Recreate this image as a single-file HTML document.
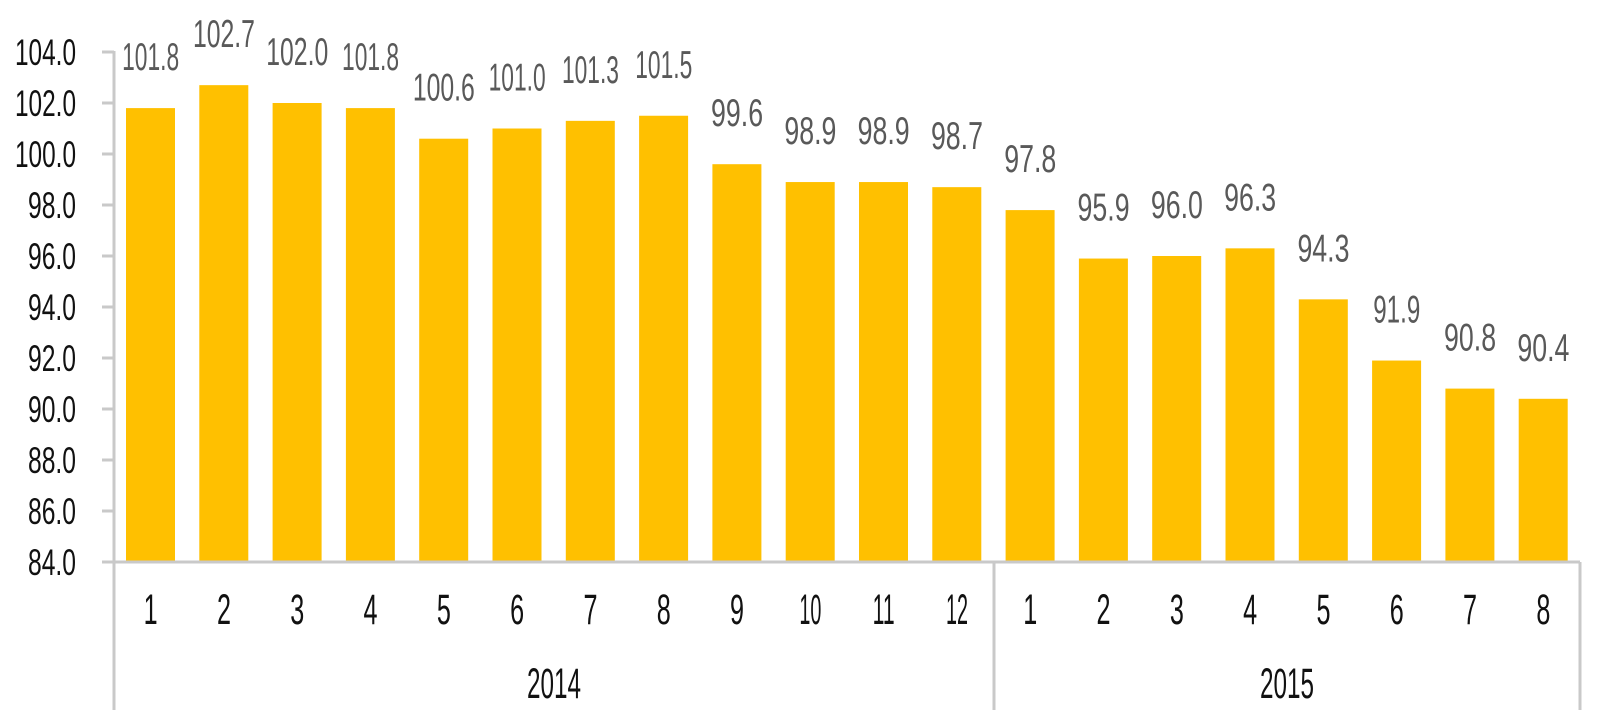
<!DOCTYPE html>
<html><head><meta charset="utf-8"><style>
html,body{margin:0;padding:0;background:#fff;}
svg{display:block;}
text{font-family:"Liberation Sans",sans-serif;}
</style></head><body>
<svg width="1600" height="719" viewBox="0 0 1600 719" xmlns="http://www.w3.org/2000/svg">
<g id="bars" fill="#FFC000"></g>
<g id="lines" stroke="#c9c9c9" stroke-width="3" fill="none">
<line x1="114" y1="51" x2="114" y2="710"/>
<line x1="102" y1="562" x2="1580" y2="562"/>
<line x1="994" y1="562" x2="994" y2="710"/>
<line x1="1580" y1="562" x2="1580" y2="710"/>
</g>
<g id="ticks" stroke="#c9c9c9" stroke-width="3"></g>
<g id="ylab" fill="#111" font-size="37" text-anchor="end"></g>
<g id="dlab" fill="#595959" font-size="39" text-anchor="middle"></g>
<g id="xlab" fill="#111" font-size="43" text-anchor="middle"></g>
<text x="554" y="698" font-size="43" fill="#111" text-anchor="middle" textLength="54" lengthAdjust="spacingAndGlyphs">2014</text>
<text x="1287" y="698" font-size="43" fill="#111" text-anchor="middle" textLength="54" lengthAdjust="spacingAndGlyphs">2015</text>
</svg>
<script>
var vals=[101.8,102.7,102.0,101.8,100.6,101.0,101.3,101.5,99.6,98.9,98.9,98.7,97.8,95.9,96.0,96.3,94.3,91.9,90.8,90.4];
var NS="http://www.w3.org/2000/svg";
function el(p,t,a,txt){var e=document.createElementNS(NS,t);for(var k in a)e.setAttribute(k,a[k]);if(txt!==undefined)e.textContent=txt;document.getElementById(p).appendChild(e);}
function y(v){return 562-(v-84)*25.5;}
function w(s){var n=0;for(var c of s){n+=(c=='.')?7:(c=='1'?10:15);}return n;}
var step=(1580-114)/20;
for(var i=0;i<20;i++){
 var x0=114+i*step+12, cx=114+i*step+step/2, v=vals[i], yt=y(v);
 el("bars","rect",{x:x0,y:yt,width:49,height:562-yt});
 var s=v.toFixed(1);
 el("dlab","text",{x:cx,y:yt-38,textLength:w(s),lengthAdjust:"spacingAndGlyphs"},s);
 var m=String(i<12?i+1:i-11);
 el("xlab","text",{x:cx,y:624,textLength:m.length==2?22:14,lengthAdjust:"spacingAndGlyphs"},m);
}
for(var v=84;v<=104;v+=2){
 var yy=y(v);
 el("ticks","line",{x1:102,y1:yy,x2:114,y2:yy});
 var s=v.toFixed(1);
 el("ylab","text",{x:76,y:yy+13,textLength:s.length==5?61:48,lengthAdjust:"spacingAndGlyphs"},s);
}
</script>
</body></html>
